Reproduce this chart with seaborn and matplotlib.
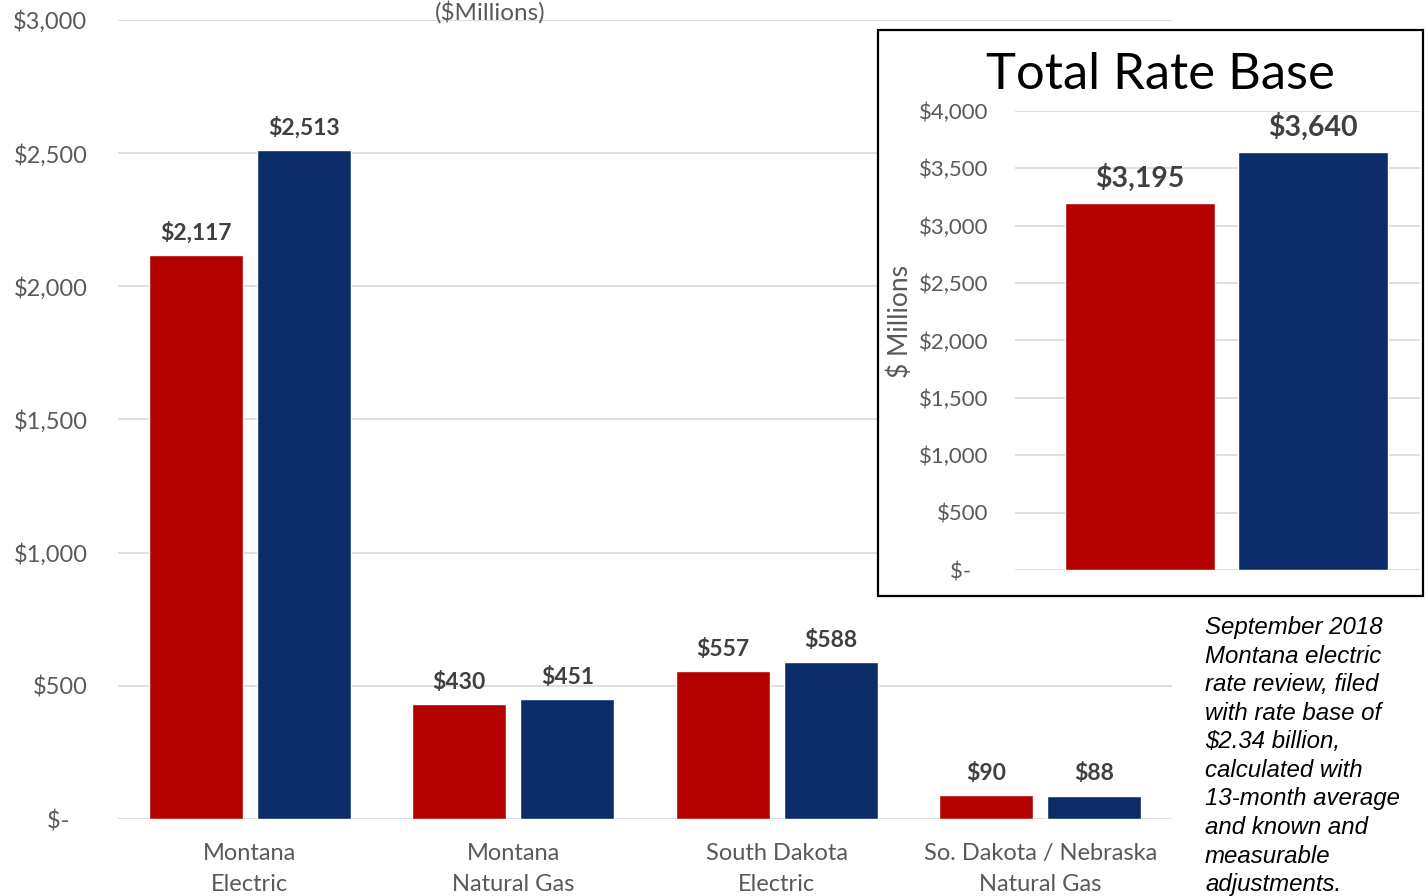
import matplotlib
matplotlib.use("Agg")
import matplotlib.pyplot as plt
from matplotlib.patches import Rectangle
from matplotlib.ticker import FuncFormatter
import seaborn as sns
import pandas as pd

# Rate base by jurisdiction ($ millions)
categories = ["Montana\nElectric", "Montana\nNatural Gas", "South Dakota\nElectric",
              "So. Dakota / Nebraska\nNatural Gas"]
series_names = ["Prior", "Current"]
prior_values = [2117, 430, 557, 90]
current_values = [2513, 451, 588, 88]

total_prior = 3195
total_current = 3640

RED = "#B50000"
BLUE = "#0B2C69"
GRID = "#D9D9D9"
TICK = "#595959"
LABEL = "#404040"

sns.set_theme(style="white")
plt.rcParams["font.family"] = ["Lato", "DejaVu Sans"]

W, H = 1428, 896
fig = plt.figure(figsize=(W / 100, H / 100), dpi=100)


def fig_rect(x0, y0, x1, y1):
    return [x0 / W, 1 - y1 / H, (x1 - x0) / W, (y1 - y0) / H]


def money(v, _pos=None):
    return "$-   " if v == 0 else f"${v:,.0f}"


# ---- main chart ----
df = pd.DataFrame({
    "category": categories * 2,
    "series": [series_names[0]] * 4 + [series_names[1]] * 4,
    "value": prior_values + current_values,
})
ax = fig.add_axes(fig_rect(118, 20, 1172, 819))
sns.barplot(data=df, x="category", y="value", hue="series", palette=[RED, BLUE],
            width=0.82, gap=0.13, saturation=1, legend=False, ax=ax, zorder=2)
ax.set_xlim(-0.5, 3.5)
ax.set_ylim(0, 3000)
ax.set_yticks(range(0, 3001, 500))
ax.yaxis.set_major_formatter(FuncFormatter(money))
ax.grid(axis="y", color=GRID, linewidth=1.2, zorder=0)
ax.set_axisbelow(True)
for s in ax.spines.values():
    s.set_visible(False)
ax.set_xlabel("")
ax.set_ylabel("")
ax.tick_params(axis="y", length=0, pad=22, labelsize=17, labelcolor=TICK)
ax.tick_params(axis="x", length=0, pad=17, labelsize=17, labelcolor=TICK)
for lbl in ax.get_xticklabels():
    lbl.set_linespacing(1.62)
for cont, vals in zip(ax.containers, [prior_values, current_values]):
    ax.bar_label(cont, labels=[f"${v:,.0f}" for v in vals], padding=8,
                 fontsize=16.5, fontweight="bold", color=LABEL)

fig.text(490 / W, 1 - 1 / H, "($Millions)", ha="center", va="top",
         fontsize=17.5, color=TICK)

# ---- inset: total rate base ----
fig.patches.append(Rectangle((878 / W, 1 - 596 / H), (1423 - 878) / W, (596 - 30) / H,
                             transform=fig.transFigure, facecolor="white",
                             edgecolor="black", linewidth=1.6, zorder=1))

tot = pd.DataFrame({"series": series_names, "value": [total_prior, total_current]})
ax2 = fig.add_axes(fig_rect(1015, 111, 1420, 570), zorder=2)
ax2.patch.set_alpha(0)
sns.barplot(data=tot, x="series", y="value", hue="series", palette=[RED, BLUE],
            width=0.867, saturation=1, legend=False, ax=ax2, zorder=2)
ax2.set_xlim(-0.72, 1.62)
ax2.set_ylim(0, 4000)
ax2.set_yticks(range(0, 4001, 500))
ax2.yaxis.set_major_formatter(FuncFormatter(money))
ax2.grid(axis="y", color=GRID, linewidth=1.2, zorder=0)
ax2.set_axisbelow(True)
for s in ax2.spines.values():
    s.set_visible(False)
ax2.set_xticks([])
ax2.set_xlabel("")
ax2.set_ylabel("$ Millions", fontsize=19, color=TICK)
ax2.yaxis.set_label_coords((913 - 1015) / (1420 - 1015), (570 - 321) / (570 - 111))
ax2.tick_params(axis="y", length=0, pad=19, labelsize=16, labelcolor=TICK)
for cont, v in zip(ax2.containers, [total_prior, total_current]):
    ax2.bar_label(cont, labels=[f"${v:,.0f}"], padding=8,
                  fontsize=20.5, fontweight="bold", color=LABEL)
fig.text(1160 / W, 1 - 75 / H, "Total Rate Base", ha="center", va="center",
         fontsize=36.5, color="black", zorder=3)

# ---- side note ----
fig.text(1205 / W, 1 - 616 / H,
         "September 2018\nMontana electric\nrate review, filed\nwith rate base of\n"
         "$2.34 billion,\ncalculated with\n13-month average\nand known and\n"
         "measurable\nadjustments.",
         ha="left", va="top", fontsize=17.3, style="italic", color="black",
         family=["Liberation Sans", "DejaVu Sans"], linespacing=1.31)

fig.savefig("out.png", dpi=100, facecolor="white")
